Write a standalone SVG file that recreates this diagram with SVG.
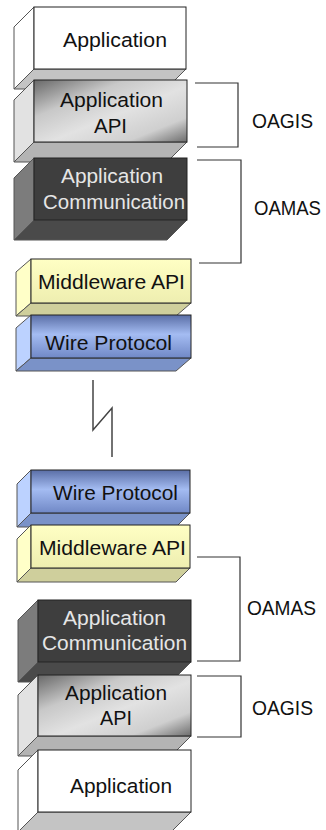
<svg xmlns="http://www.w3.org/2000/svg" width="326" height="830" viewBox="0 0 326 830">
<defs>
<linearGradient id="gApi" x1="0" y1="0" x2="1" y2="1">
<stop offset="0" stop-color="#686868"/>
<stop offset="0.3" stop-color="#c8c8c8"/>
<stop offset="0.55" stop-color="#e2e2e2"/>
<stop offset="0.8" stop-color="#cfcfcf"/>
<stop offset="1" stop-color="#6c6c6c"/>
</linearGradient>
<linearGradient id="gWire" x1="0" y1="0" x2="0" y2="1">
<stop offset="0" stop-color="#5a6ea6"/>
<stop offset="0.45" stop-color="#a4bcf2"/>
<stop offset="1" stop-color="#7088c6"/>
</linearGradient>
<linearGradient id="gMid" x1="0" y1="0" x2="0" y2="1">
<stop offset="0" stop-color="#ffffc4"/>
<stop offset="1" stop-color="#eeeeb0"/>
</linearGradient>
</defs>
<style>
.f{stroke:#222;stroke-width:1}
.s{stroke:#555;stroke-width:1}
.t{font-family:"Liberation Sans",Arial,sans-serif;font-size:20.5px;fill:#111}
.tw{font-family:"Liberation Sans",Arial,sans-serif;font-size:20.5px;fill:#e6e6e6}
.lbl{font-family:"Liberation Sans",Arial,sans-serif;font-size:20px;fill:#111}
.br{fill:none;stroke:#333;stroke-width:1.2}
</style>

<g id="top-application">
<polygon class="s" fill="#ffffff" points="34,7 14,27 14,89 34,69"/>
<polygon class="s" fill="#c4c4c4" points="34,69 186,69 166,89 14,89"/>
<rect class="f" fill="#ffffff" x="34" y="7" width="152" height="62"/>
<text class="t" x="63" y="47" textLength="104" lengthAdjust="spacingAndGlyphs">Application</text>
</g>

<g id="top-application-api">
<polygon class="s" fill="#e2e2e2" points="34,80 14,100 14,162 34,142"/>
<polygon class="s" fill="#b4b4b4" points="34,142 187,142 167,162 14,162"/>
<rect class="f" fill="url(#gApi)" x="34" y="80" width="153" height="62"/>
<text class="t" x="60" y="107" textLength="103" lengthAdjust="spacingAndGlyphs">Application</text>
<text class="t" x="94" y="133" textLength="33" lengthAdjust="spacingAndGlyphs">API</text>
</g>

<g id="top-application-communication">
<polygon class="s" fill="#7c7c7c" points="34,158 14,178 14,240 34,220"/>
<polygon class="s" fill="#4a4a4a" points="34,220 187,220 167,240 14,240"/>
<rect class="f" fill="#3e3e3e" x="34" y="158" width="153" height="62"/>
<text class="tw" x="61" y="183" textLength="102" lengthAdjust="spacingAndGlyphs">Application</text>
<text class="tw" x="43" y="209" textLength="142" lengthAdjust="spacingAndGlyphs">Communication</text>
</g>

<g id="top-middleware-api">
<polygon class="s" fill="#ffffc8" points="31,259 16,272 16,316 31,303"/>
<polygon class="s" fill="#cfcf9c" points="31,303 191,303 176,316 16,316"/>
<rect class="f" fill="url(#gMid)" x="31" y="259" width="160" height="44"/>
<text class="t" x="38" y="289" textLength="147" lengthAdjust="spacingAndGlyphs">Middleware API</text>
</g>

<g id="top-wire-protocol">
<polygon class="s" fill="#bcd2ff" points="31,315 16,328 16,371 31,358"/>
<polygon class="s" fill="#7a92c8" points="31,358 191,358 176,371 16,371"/>
<rect class="f" fill="url(#gWire)" x="31" y="315" width="160" height="43"/>
<text class="t" x="45" y="350" textLength="127" lengthAdjust="spacingAndGlyphs">Wire Protocol</text>
</g>

<g id="bottom-wire-protocol">
<polygon class="s" fill="#bcd2ff" points="31,470 17,484 17,527 31,513"/>
<polygon class="s" fill="#7a92c8" points="31,513 190,513 176,527 17,527"/>
<rect class="f" fill="url(#gWire)" x="31" y="470" width="159" height="43"/>
<text class="t" x="53" y="500" textLength="125" lengthAdjust="spacingAndGlyphs">Wire Protocol</text>
</g>

<g id="bottom-middleware-api">
<polygon class="s" fill="#ffffc8" points="31,525 17,539 17,582 31,568"/>
<polygon class="s" fill="#cfcf9c" points="31,568 190,568 176,582 17,582"/>
<rect class="f" fill="url(#gMid)" x="31" y="525" width="159" height="43"/>
<text class="t" x="39" y="555" textLength="147" lengthAdjust="spacingAndGlyphs">Middleware API</text>
</g>

<g id="bottom-application-communication">
<polygon class="s" fill="#7c7c7c" points="38,600 18,620 18,682 38,662"/>
<polygon class="s" fill="#4a4a4a" points="38,662 191,662 171,682 18,682"/>
<rect class="f" fill="#3e3e3e" x="38" y="600" width="153" height="62"/>
<text class="tw" x="63" y="625" textLength="103" lengthAdjust="spacingAndGlyphs">Application</text>
<text class="tw" x="42" y="650" textLength="145" lengthAdjust="spacingAndGlyphs">Communication</text>
</g>

<g id="bottom-application-api">
<polygon class="s" fill="#e2e2e2" points="38,675 18,695 18,756 38,736"/>
<polygon class="s" fill="#b4b4b4" points="38,736 191,736 171,756 18,756"/>
<rect class="f" fill="url(#gApi)" x="38" y="675" width="153" height="61"/>
<text class="t" x="65" y="700" textLength="102" lengthAdjust="spacingAndGlyphs">Application</text>
<text class="t" x="100" y="725" textLength="32" lengthAdjust="spacingAndGlyphs">API</text>
</g>

<g id="bottom-application">
<polygon class="s" fill="#ffffff" points="38,750 18,770 18,832 38,812"/>
<polygon class="s" fill="#c4c4c4" points="38,812 191,812 171,832 18,832"/>
<rect class="f" fill="#ffffff" x="38" y="750" width="153" height="62"/>
<text class="t" x="70" y="793" textLength="102" lengthAdjust="spacingAndGlyphs">Application</text>
</g>

<g id="connectors">
<polyline fill="none" stroke="#444" stroke-width="1.5" points="93,380 93,430 112,408 112,457"/>
<polyline class="br" points="195,83 238,83 238,147 197,147"/>
<polyline class="br" points="197,160 241,160 241,263 199,263"/>
<polyline class="br" points="197,557 240,557 240,661 197,661"/>
<polyline class="br" points="197,676 241,676 241,737 197,737"/>
</g>

<g id="labels">
<text class="lbl" x="254" y="215" textLength="67" lengthAdjust="spacingAndGlyphs">OAMAS</text>
<text class="lbl" x="252" y="128" textLength="61" lengthAdjust="spacingAndGlyphs">OAGIS</text>
<text class="lbl" x="247" y="615" textLength="69" lengthAdjust="spacingAndGlyphs">OAMAS</text>
<text class="lbl" x="252" y="715" textLength="61" lengthAdjust="spacingAndGlyphs">OAGIS</text>
</g>
</svg>
